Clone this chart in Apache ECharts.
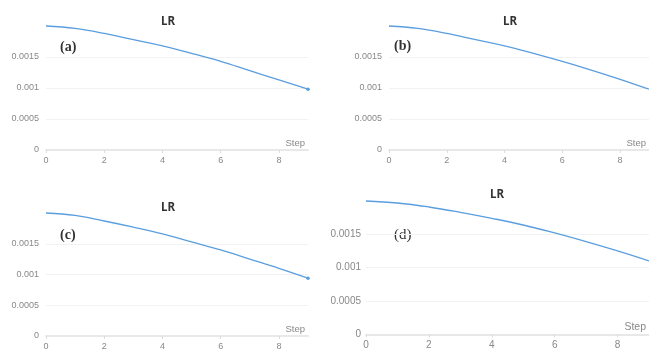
<!DOCTYPE html>
<html>
<head>
<meta charset="utf-8">
<script src="https://cdn.jsdelivr.net/npm/echarts@6/dist/echarts.min.js"></script>
<style>html,body{margin:0;padding:0;background:#fff}#c{width:649px;height:352px}</style>
</head>
<body>
<div id="c"></div>
<script>
var steps = [0, 1, 2, 3, 4, 5, 6, 7, 8, 9];
var xTicks = [0, 2, 4, 6, 8];
var yTicks = [0, 0.0005, 0.001, 0.0015];
var lrA = [0.002, 0.00196, 0.00188, 0.00178, 0.00168, 0.00156, 0.00143, 0.00128, 0.00113, 0.00098];
var lrB = [0.002, 0.00196, 0.00188, 0.00178, 0.00168, 0.00156, 0.00143, 0.00129, 0.00114, 0.00098];
var lrC = [0.002, 0.00196, 0.00187, 0.00177, 0.00166, 0.00153, 0.0014, 0.00125, 0.0011, 0.00094];
var lrD = [0.002, 0.00197, 0.00191, 0.00183, 0.00174, 0.00164, 0.00152, 0.00139, 0.00125, 0.0011];
var panelLabels = ['(a)', '(b)', '(c)', '(d)'];
var titles = ['LR', 'LR', 'LR', 'LR'];

var chart = echarts.init(document.getElementById('c'), null, {renderer: 'canvas'});

var grids = [
  {left: 46, width: 262, top: 26, height: 124},
  {left: 389, width: 261, top: 26, height: 124},
  {left: 46, width: 262, top: 213, height: 123},
  {left: 366, width: 283.5, top: 201, height: 133.3}
];
var fs = [9, 9, 9, 10];
var series = [lrA, lrB, lrC, lrD];
var endDot = [true, false, true, false];
var titlePos = [[163, 11], [505, 11], [163, 197], [492, 184]];
var labelPos = [[60, 48.5], [394, 48], [60, 237], [394, 237]];
var labelFs = [14, 14, 14, 15];

var option = {
  animation: false,
  backgroundColor: '#fff',
  title: titles.map(function (t, i) {
    return {text: t, left: titlePos[i][0], top: titlePos[i][1], textAlign: 'center',
      textStyle: {fontSize: 11.5, fontWeight: 'bold', color: '#333', fontFamily: 'Noto Sans'}};
  }),
  grid: grids,
  xAxis: grids.map(function (g, i) {
    return {
      type: 'value', gridIndex: i, min: 0, max: 9, interval: 2,
      name: 'Step', nameLocation: 'end', nameGap: -3,
      nameTextStyle: {align: 'right', verticalAlign: 'bottom', color: '#888', fontSize: fs[i] + 0.5, padding: [0, 0, 2, 0]},
      axisLine: {show: true, lineStyle: {color: '#e8e8e8', width: 2}},
      axisTick: {show: true, length: 3, lineStyle: {color: '#dcdcdc'}, customValues: xTicks},
      axisLabel: {color: '#888', fontSize: fs[i], margin: 6, customValues: xTicks},
      splitLine: {show: false}
    };
  }),
  yAxis: grids.map(function (g, i) {
    return {
      type: 'value', gridIndex: i, min: 0, max: 0.002, interval: 0.0005,
      axisLine: {show: false}, axisTick: {show: false},
      axisLabel: {color: '#888', fontSize: fs[i], margin: i === 3 ? 5 : 7, showMaxLabel: false},
      splitLine: {show: true, showMaxLine: false, showMinLine: false, lineStyle: {color: '#f2f2f2', width: 1}}
    };
  }),
  series: series.map(function (arr, i) {
    var last = arr.length - 1;
    return {
      type: 'line', xAxisIndex: i, yAxisIndex: i,
      data: steps.map(function (s, k) { return [s, arr[k]]; }),
      smooth: 0.4,
      symbol: 'circle',
      showSymbol: true,
      symbolSize: function (v, p) { return (endDot[i] && p.dataIndex === last) ? 3.5 : 0; },
      itemStyle: {color: '#5a9ee0'},
      lineStyle: {color: '#5a9ee0', width: 1.3},
      clip: false
    };
  }),
  graphic: panelLabels.map(function (t, i) {
    return {type: 'text', left: labelPos[i][0], top: labelPos[i][1] - labelFs[i] * 0.6,
      style: {text: t, fontSize: labelFs[i], fontFamily: 'Liberation Serif', fontWeight: i === 3 ? 'normal' : 'bold', fill: '#333'}};
  })
};
chart.setOption(option);
</script>
</body>
</html>
